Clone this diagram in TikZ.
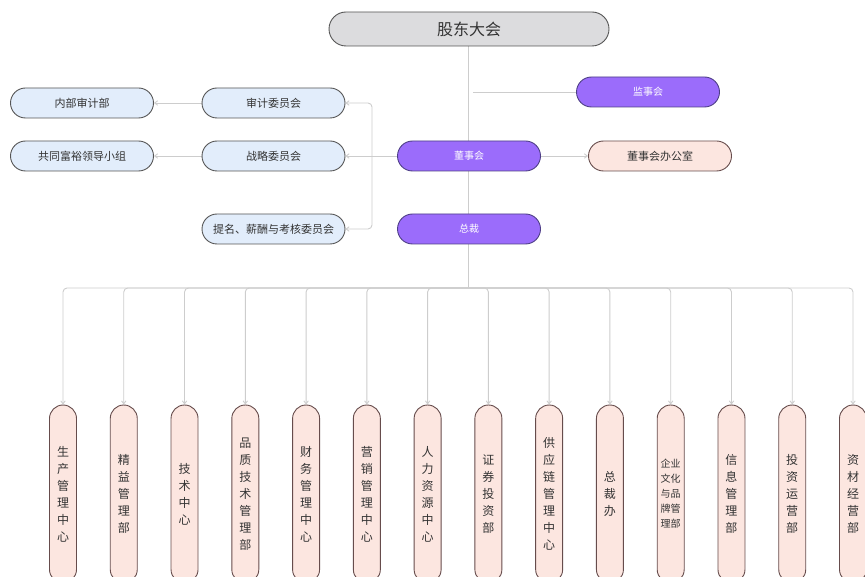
\documentclass[tikz,border=0pt]{standalone}
\usepackage{fontspec}
\setmainfont{Noto Sans CJK SC}
\usetikzlibrary{arrows.meta,backgrounds}
\definecolor{grayfill}{HTML}{DCDCDE}
\definecolor{purp}{HTML}{9B6CFB}
\definecolor{purpdraw}{HTML}{4E3F86}
\definecolor{bluefill}{HTML}{E2EDFB}
\definecolor{pinkfill}{HTML}{FCE6E0}
\definecolor{edge}{HTML}{555555}
\definecolor{conncol}{HTML}{CDCDCD}
\definecolor{txt}{HTML}{333333}
\tikzset{
  pill/.style={draw=edge, line width=0.9pt, rounded corners=15pt, minimum height=30pt, minimum width=143pt, inner sep=0pt, text=txt, font=\fontsize{11}{13}\selectfont},
  bluebox/.style={pill, fill=bluefill},
  purpbox/.style={pill, fill=purp, draw=purpdraw, text=white, font=\fontsize{10}{12}\selectfont},
  pinkbox/.style={pill, fill=pinkfill, draw=edge!90!red},
  deptbox/.style={draw=edge!90!red, line width=0.9pt, fill=pinkfill, rounded corners=13.5pt, minimum width=27pt, minimum height=178pt, inner sep=0pt, text=txt, align=center, font=\fontsize{12}{17}\selectfont},
  conn/.style={draw=conncol, line width=0.9pt},
  arr/.style={conn, -{Straight Barb[length=3pt,width=4.5pt]}}
}
\begin{document}
\begin{tikzpicture}[x=1pt,y=-1pt]
\useasboundingbox (0,0) rectangle (865,577);
\clip (0,0) rectangle (865,577);
\node[pill, fill=grayfill, minimum width=280pt, minimum height=34pt, rounded corners=17pt, font=\fontsize{16}{18}\selectfont] (gd) at (469,29) {股东大会};
\node[purpbox] (jsh) at (648,92) {监事会};
\node[purpbox] (dsh) at (469,156) {董事会};
\node[pinkbox] (dsbg) at (660,156) {董事会办公室};
\node[purpbox] (zc) at (469,229) {总裁};
\node[bluebox] (sj) at (273.5,103) {审计委员会};
\node[bluebox] (zl) at (273.5,156) {战略委员会};
\node[bluebox] (tm) at (273.5,229) {提名、薪酬与考核委员会};
\node[bluebox] (nb) at (82,103) {内部审计部};
\node[bluebox] (gt) at (82,156) {共同富裕领导小组};
\foreach \i/\t in {1/{生\\产\\管\\理\\中\\心},2/{精\\益\\管\\理\\部},3/{技\\术\\中\\心},4/{品\\质\\技\\术\\管\\理\\部},5/{财\\务\\管\\理\\中\\心},6/{营\\销\\管\\理\\中\\心},7/{人\\力\\资\\源\\中\\心},8/{证\\券\\投\\资\\部},9/{供\\应\\链\\管\\理\\中\\心},10/{总\\裁\\办},12/{信\\息\\管\\理\\部},13/{投\\资\\运\\营\\部},14/{资\\材\\经\\营\\部}}
  \node[deptbox] (b\i) at ({63+(\i-1)*60.77},494) {\t};
\node[deptbox, font=\fontsize{10}{15}\selectfont] (b11) at ({63+10*60.77},494) {企业\\文化\\与品\\牌管\\理部};
\coordinate (bus) at (468,288);
\coordinate (jshstart) at (473,92);
\coordinate (lb) at (372,156);
\begin{scope}[on background layer]
  \draw[conn] (gd.south -| bus) -- (bus);
  \draw[conn] (jshstart) -- (jsh.west);
  \foreach \i in {1,...,14}
    \draw[arr, rounded corners=4pt] (bus) -| (b\i.north);
  \draw[arr] (dsh.east) -- (dsbg.west);
  \draw[conn] (dsh.west) -- (lb);
  \draw[arr, rounded corners=4pt] (lb) |- (sj.east);
  \draw[arr] (lb) -- (zl.east);
  \draw[arr, rounded corners=4pt] (lb) |- (tm.east);
  \draw[arr] (sj.west) -- (nb.east);
  \draw[arr] (zl.west) -- (gt.east);
\end{scope}
\end{tikzpicture}
\end{document}
